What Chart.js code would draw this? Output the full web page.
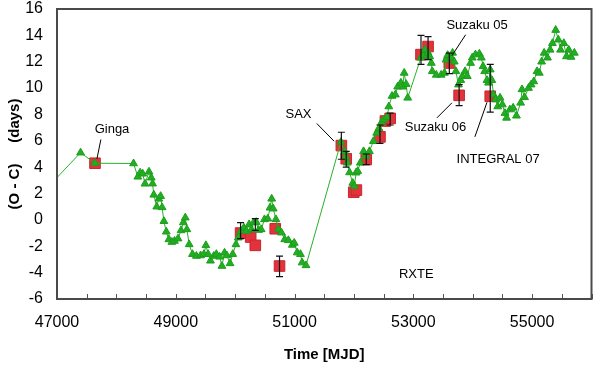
<!DOCTYPE html>
<html>
<head>
<meta charset="utf-8">
<script src="https://cdn.jsdelivr.net/npm/chart.js@4/dist/chart.umd.min.js"></script>
<style>
  html, body { margin: 0; padding: 0; background: #fff; }
  #wrap { width: 600px; height: 368px; }
</style>
</head>
<body>
<div id="wrap"><canvas id="chart-oc"></canvas></div>
<script>
// O - C residuals vs time (MJD)
const FONT = '"Liberation Sans", Arial, sans-serif';

// RXTE timing (green triangles, joined)
const greenMjd = [
  46934, 47397, 47640, 48289, 48361, 48400, 48443, 48482, 48549, 48587,
  48609, 48630, 48680, 48714, 48745, 48770, 48800, 48840, 48884, 48934,
  48978, 49038, 49088, 49127, 49160, 49187, 49226, 49281, 49347, 49418,
  49474, 49507, 49545, 49584, 49640, 49683, 49739, 49777, 49821, 49860,
  49914, 49959, 50013, 50053, 50096, 50146, 50190, 50235, 50273, 50311,
  50355, 50394, 50438, 50493, 50549, 50587, 50615, 50641, 50686, 50730,
  50780, 50835, 50896, 50962, 50995, 51044, 51099, 51127, 51193, 51780,
  51843, 51860, 51887, 51926, 51980, 52008, 52036, 52063, 52107, 52162,
  52201, 52261, 52327, 52383, 52421, 52465, 52500, 52559, 52587, 52641,
  52697, 52736, 52790, 52823, 52846, 52879, 52906, 53127, 53165, 53193,
  53248, 53276, 53303, 53319, 53386, 53468, 53524, 53551, 53579, 53633,
  53661, 53689, 53716, 53760, 53799, 53826, 53871, 53909, 53964, 53992,
  54046, 54112, 54145, 54174, 54201, 54240, 54267, 54295, 54322, 54350,
  54388, 54421, 54460, 54499, 54543, 54570, 54625, 54681, 54736, 54807,
  54830, 54873, 54939, 54983, 55028, 55083, 55121, 55160, 55203, 55259,
  55303, 55342, 55397, 55441, 55479, 55534, 55579, 55617, 55656, 55711
];
const greenOc = [
  2.9, 5.1, 4.3, 4.28, 3.27, 3.58, 3.5, 2.74, 3.65, 3.2,
  2.75, 1.9, 1.0, 1.6, 1.8, 0.95, -0.1, -0.9, -1.48, -1.68,
  -1.6, -1.42, -0.8, -0.2, 0.17, -0.72, -1.86, -2.6, -2.74, -2.7,
  -2.6, -1.93, -2.6, -3.1, -2.74, -2.6, -2.8, -3.5, -2.5, -2.7,
  -3.3, -2.6, -1.86, -1.35, -0.85, -0.6, -0.85, -0.34, -0.72, -0.2,
  -0.17, -0.77, -0.72, 0.04, 0.09, 0.92, 1.6, 0.85, 0.04, -0.72,
  -0.97, -1.48, -1.55, -1.9, -1.75, -2.48, -2.6, -3.24, -3.45, 5.9,
  5.2, 4.8, 4.33, 3.6, 2.8, 2.56, 3.58, 3.7, 4.33, 5.2,
  4.83, 5.2, 5.97, 6.6, 6.95, 7.4, 7.6, 7.8, 8.6, 9.4,
  9.5, 10.1, 10.4, 10.1, 11.15, 10.3, 9.26, 12.3, 12.5, 12.9,
  12.67, 12.4, 11.9, 11.27, 11.0, 11.0, 11.15, 12.15, 12.5, 12.3,
  12.67, 12.0, 11.27, 10.26, 10.6, 10.9, 11.27, 10.9, 11.9, 12.3,
  12.54, 12.6, 12.3, 11.65, 11.27, 10.6, 10.4, 11.4, 10.6, 9.5,
  9.13, 8.6, 9.26, 8.75, 8.1, 7.74, 8.37, 8.5, 7.9, 8.88,
  9.9, 9.3, 10.0, 10.26, 10.5, 11.27, 11.15, 12.0, 12.67, 12.3,
  12.9, 13.4, 14.4, 13.67, 12.9, 13.4, 12.4, 12.9, 12.36, 12.67
];

// Other missions (red squares) with error ranges
const redMjd = [47640, 50091, 50261, 50339, 50675, 50747, 51788, 51870, 51997, 52041,
                52207, 52438, 52530, 52610, 53129, 53248, 53606, 53771, 54295];
const redOc  = [4.3, -1.0, -1.3, -1.93, -0.67, -3.5, 5.64, 4.64, 2.1, 2.26,
                4.58, 6.3, 7.5, 7.7, 12.54, 13.15, 11.9, 9.45, 9.38];
const redLo  = [null, -1.42, null, -0.8, null, -4.3, 4.6, 4.0, null, null,
                4.2, 5.8, null, 7.2, 11.8, 12.16, 11.1, 8.67, 8.17];
const redHi  = [null, -0.21, null, 0.09, null, -2.74, 6.65, 5.2, null, null,
                5.0, 7.2, null, 8.1, 14.0, 13.9, 12.65, 10.26, 11.8];

const xTicks = [47000, 49000, 51000, 53000, 55000];
const yTicks = [-6, -4, -2, 0, 2, 4, 6, 8, 10, 12, 14, 16];

// mission labels: text position and leader line, in data units
const notes = [
  { text: "Ginga", x: 47926, y: 6.86, from: [47739, 6.1], to: [47673, 4.64] },
  { text: "SAX", x: 51066, y: 7.99, from: [51375, 7.31], to: [51666, 5.97] },
  { text: "Suzaku 05", x: 54074, y: 14.73, from: [53881, 14.05], to: [53650, 12.46] },
  { text: "Suzaku 06", x: 53372, y: 6.98, from: [53397, 7.74], to: [53650, 8.88] },
  { text: "INTEGRAL 07", x: 54427, y: 4.58, from: [54036, 6.3], to: [54240, 8.92] },
  { text: "RXTE", x: 53050, y: -4.13 },
];

const decor = {
  id: "decor",
  afterDatasetsDraw(chart) {
    const { ctx, scales: { x, y } } = chart;
    ctx.save();
    ctx.strokeStyle = "#111";
    ctx.lineWidth = 1.2;
    redMjd.forEach((m, i) => {
      if (redLo[i] == null) return;
      const px = x.getPixelForValue(m);
      const top = y.getPixelForValue(redHi[i]);
      const bot = y.getPixelForValue(redLo[i]);
      ctx.beginPath();
      ctx.moveTo(px, top); ctx.lineTo(px, bot);
      ctx.moveTo(px - 3.5, top); ctx.lineTo(px + 3.5, top);
      ctx.moveTo(px - 3.5, bot); ctx.lineTo(px + 3.5, bot);
      ctx.stroke();
    });
    ctx.restore();
  },
  afterDraw(chart) {
    const { ctx, chartArea: a, scales: { x, y } } = chart;
    ctx.save();
    // minor ticks on the time axis, pointing inward
    ctx.strokeStyle = "#555";
    ctx.lineWidth = 1;
    for (let m = 47000; m <= 56000; m += 500) {
      const px = Math.round(x.getPixelForValue(m)) + 0.5;
      ctx.beginPath();
      ctx.moveTo(px, a.bottom);
      ctx.lineTo(px, a.bottom - 5);
      ctx.stroke();
    }
    // frame
    ctx.strokeStyle = "#4a4a4a";
    ctx.lineWidth = 2;
    ctx.strokeRect(a.left, a.top, a.right - a.left, a.bottom - a.top);
    // labels
    ctx.fillStyle = "#000";
    ctx.strokeStyle = "#000";
    ctx.lineWidth = 1;
    ctx.font = "13px " + FONT;
    ctx.textAlign = "center";
    ctx.textBaseline = "middle";
    notes.forEach((n) => {
      ctx.fillText(n.text, x.getPixelForValue(n.x), y.getPixelForValue(n.y));
      if (n.from) {
        ctx.beginPath();
        ctx.moveTo(x.getPixelForValue(n.from[0]), y.getPixelForValue(n.from[1]));
        ctx.lineTo(x.getPixelForValue(n.to[0]), y.getPixelForValue(n.to[1]));
        ctx.stroke();
      }
    });
    ctx.restore();
  },
};

new Chart(document.getElementById("chart-oc"), {
  type: "scatter",
  data: {
    datasets: [
      {
        label: "RXTE",
        data: greenMjd.map((m, i) => ({ x: m, y: greenOc[i] })),
        showLine: true,
        borderColor: "#2ab02a",
        borderWidth: 1,
        pointStyle: "triangle",
        pointRadius: 4.5,
        pointBackgroundColor: "#22ad22",
        pointBorderColor: "#1c9e1c",
        pointBorderWidth: 1,
        order: 0,
      },
      {
        label: "Other",
        data: redMjd.map((m, i) => ({ x: m, y: redOc[i] })),
        pointStyle: "rect",
        pointRadius: 7.5,
        pointBackgroundColor: "#e2323b",
        pointBorderColor: "#c8272f",
        pointBorderWidth: 1,
        order: 1,
      },
    ],
  },
  options: {
    responsive: true,
    maintainAspectRatio: false,
    animation: false,
    layout: { padding: { left: 0, right: 2, top: 0, bottom: 0 } },
    plugins: { legend: { display: false }, tooltip: { enabled: false } },
    scales: {
      x: {
        type: "linear",
        min: 47000,
        max: 56000,
        afterBuildTicks: (s) => { s.ticks = xTicks.map((v) => ({ value: v })); },
        afterFit: (s) => { s.height = 69; },
        ticks: {
          color: "#000", font: { size: 16, family: FONT }, padding: 14, maxRotation: 0, autoSkip: false,
          callback: (v) => String(v),
        },
        grid: { display: false, drawTicks: false },
        border: { display: false },
        title: {
          display: true, text: "Time [MJD]", color: "#000",
          font: { size: 15, weight: "bold", family: FONT }, padding: { top: 0, bottom: 4 },
        },
      },
      y: {
        min: -6,
        max: 16,
        afterBuildTicks: (s) => { s.ticks = yTicks.map((v) => ({ value: v })); },
        afterFit: (s) => { s.width = 57; s.paddingTop = 9; s.paddingBottom = 0; },
        ticks: { color: "#000", font: { size: 16, family: FONT }, padding: 14 },
        grid: { display: false, drawTicks: false },
        border: { display: false },
        title: {
          display: true, text: "(O - C)     (days)", color: "#000",
          font: { size: 15, weight: "bold", family: FONT }, padding: { top: 6, bottom: 0 },
        },
      },
    },
  },
  plugins: [decor],
});
</script>
</body>
</html>
